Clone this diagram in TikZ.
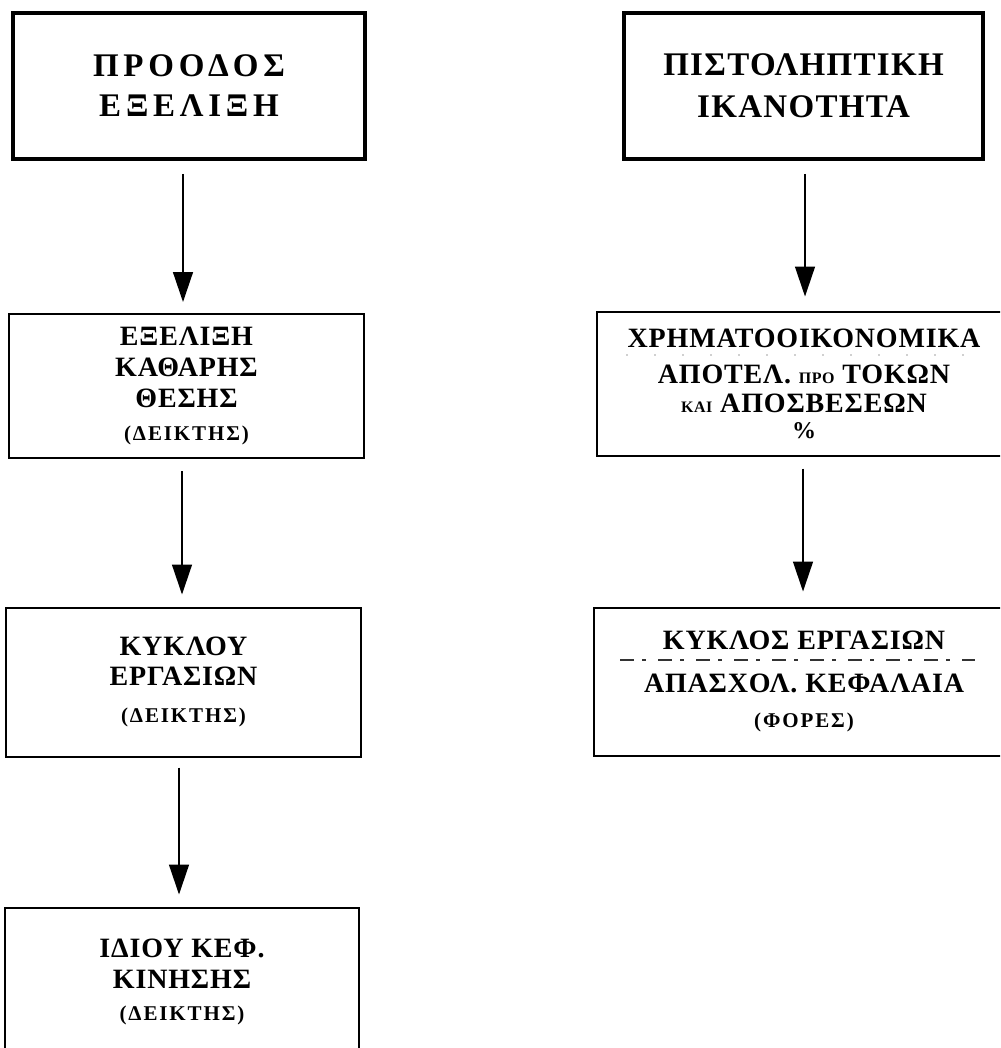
\documentclass[tikz,border=0pt]{standalone}
\usepackage{fontspec}
\setmainfont{Liberation Serif}
\newfontfamily\myBodyFam{Liberation Serif}[LetterSpace=3]
\newfontfamily\myTitleFamA{Liberation Serif}[LetterSpace=14.5]
\newfontfamily\myTitleFamB{Liberation Serif}[LetterSpace=4]
\newcommand\myBody{\myBodyFam\bfseries\fontsize{14}{15}\selectfont}
\newcommand\myTitleA{\myTitleFamA\bfseries\fontsize{16.5}{20}\selectfont}
\newcommand\myTitleB{\myTitleFamB\bfseries\fontsize{16.5}{20}\selectfont}
\newcommand\mySmall{\fontsize{10.5}{15}\selectfont\addfontfeature{LetterSpace=9}}
\newcommand\myTiny{\fontsize{8}{15}\selectfont}
\usetikzlibrary{arrows.meta}
\begin{document}
\begin{tikzpicture}[x=0.5pt,y=-0.5pt,
  box/.style={draw,line width=1pt,inner sep=0pt,align=center,font=\myBody},
  tboxA/.style={draw,line width=2pt,inner sep=0pt,align=center,font=\myTitleA},
  tboxB/.style={draw,line width=2pt,inner sep=0pt,align=center,font=\myTitleB},
  arr/.style={line width=0.7pt,-{Triangle[width=10pt,length=15pt]}},
  fracline/.style={line width=0.7pt,black!80}
]
\useasboundingbox (0,0) rectangle (1000,1048);
\clip (0,0) rectangle (1000,1048);

% left column
\node[tboxA,minimum width=176pt,minimum height=73pt] (b1) at (189,86)
  {ΠΡΟΟΔΟΣ\\ΕΞΕΛΙΞΗ};
\node[box,minimum width=177.5pt,minimum height=72pt] (b2) at (186.5,386)
  {ΕΞΕΛΙΞΗ\\[0.5pt]ΚΑΘΑΡΗΣ\\[0.5pt]ΘΕΣΗΣ\\[1.75pt]{\mySmall (ΔΕΙΚΤΗΣ)}};
\node[box,minimum width=177.5pt,minimum height=74.5pt] (b3) at (183.5,682)
  {ΚΥΚΛΟΥ\\ΕΡΓΑΣΙΩΝ\\[3.25pt]{\mySmall (ΔΕΙΚΤΗΣ)}};
\node[box,minimum width=177pt,minimum height=74.5pt] (b4) at (182,982)
  {ΙΔΙΟΥ ΚΕΦ.\\[0.5pt]ΚΙΝΗΣΗΣ\\[0.75pt]{\mySmall (ΔΕΙΚΤΗΣ)}};

% right column
\node[tboxB,minimum width=179.5pt,minimum height=73pt] (r1) at (803.5,86)
  {ΠΙΣΤΟΛΗΠΤΙΚΗ\\[1pt]ΙΚΑΝΟΤΗΤΑ};
\node[box,minimum width=207pt,minimum height=72pt] (r2) at (804,383.5)
  {ΧΡΗΜΑΤΟΟΙΚΟΝΟΜΙΚΑ\\[3pt]ΑΠΟΤΕΛ. {\myTiny ΠΡΟ} ΤΟΚΩΝ\\[-0.5pt]{\myTiny ΚΑΙ} ΑΠΟΣΒΕΣΕΩΝ\\[-2pt]{\fontsize{12}{15}\selectfont\%}};
\node[box,minimum width=210pt,minimum height=74pt] (r3) at (804,681.5)
  {ΚΥΚΛΟΣ ΕΡΓΑΣΙΩΝ\\[6.5pt]ΑΠΑΣΧΟΛ. ΚΕΦΑΛΑΙΑ\\[2.25pt]{\mySmall (ΦΟΡΕΣ)}};

% fraction lines
\draw[fracline,line cap=round,dash pattern=on 0pt off 14pt] (627,355) -- (978,355);
\draw[fracline,dash pattern=on 7pt off 4pt on 2pt off 6pt] (620,660) -- (975,660);

% connectors
\draw[arr] ([xshift=-3pt,yshift=-6.5pt]b1.south) -- ([xshift=-1.75pt,yshift=5.5pt]b2.north);
\draw[arr] ([xshift=-2.25pt,yshift=-6pt]b2.south) -- ([xshift=-0.75pt,yshift=6pt]b3.north);
\draw[arr] ([xshift=-2.25pt,yshift=-5pt]b3.south) -- ([xshift=-1.5pt,yshift=6pt]b4.north);
\draw[arr] ([xshift=0.75pt,yshift=-6.5pt]r1.south) -- ([xshift=0.5pt,yshift=7pt]r2.north);
\draw[arr] ([xshift=-0.5pt,yshift=-6pt]r2.south) -- ([xshift=-0.5pt,yshift=7.5pt]r3.north);
\end{tikzpicture}
\end{document}
